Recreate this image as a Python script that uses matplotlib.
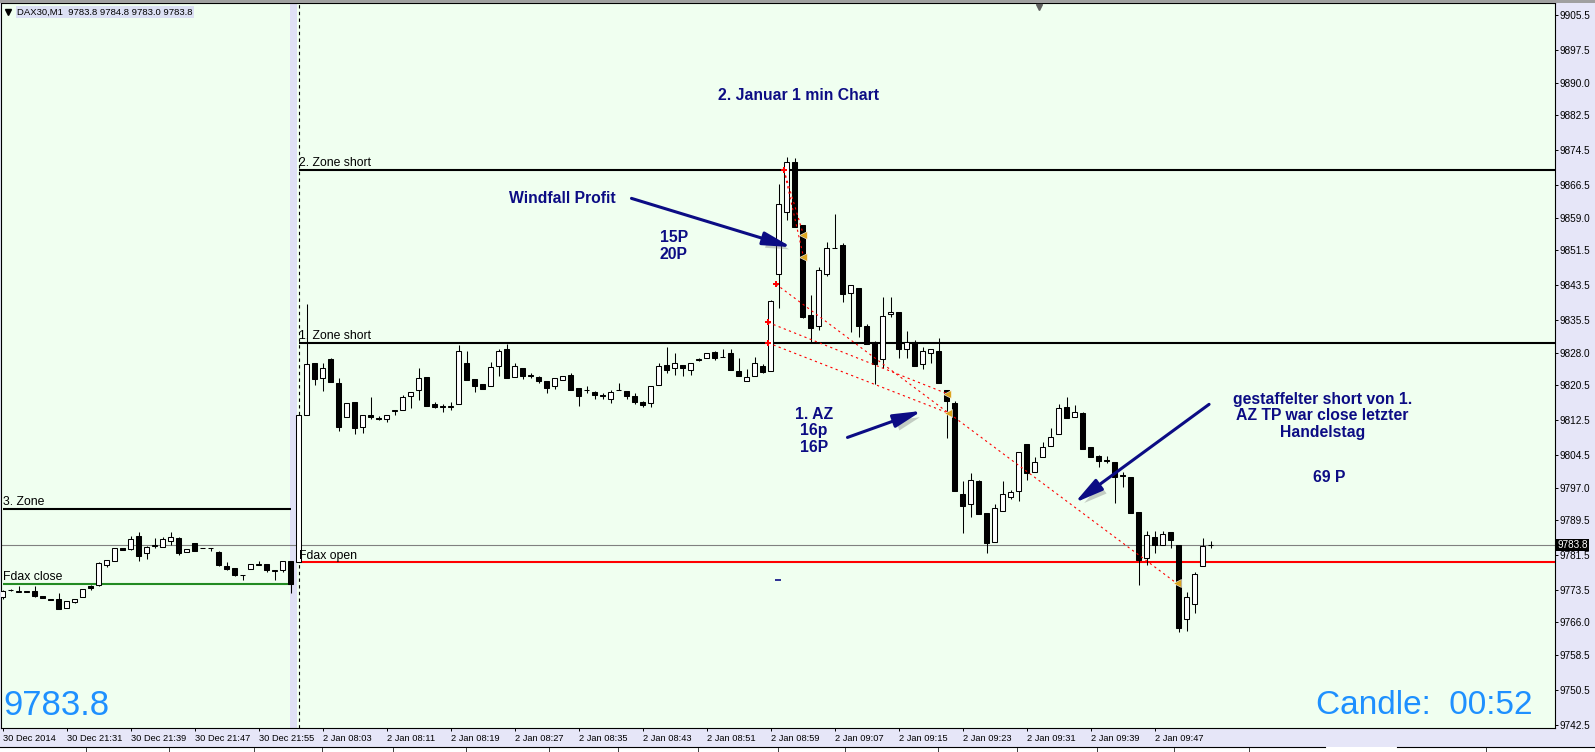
import matplotlib
matplotlib.use("Agg")
import matplotlib.pyplot as plt
import matplotlib.patheffects as pe
from matplotlib.patches import Rectangle
from matplotlib.lines import Line2D

W, H = 1595, 752
plt.rcParams['font.family'] = ['Liberation Sans', 'DejaVu Sans']

# ---- 30 Dec 2014, 21:23 .. 21:59 (M1)
dec_open = [9771.8, 9773.5, 9773.1, 9773.1, 9773.3, 9772.0, 9771.5, 9771.3, 9769.3, 9770.7,
            9771.8, 9774.4, 9774.6, 9779.2, 9780.2, 9783.1, 9782.8, 9785.9, 9781.9, 9783.6,
            9783.3, 9784.8, 9785.4, 9782.3, 9784.2, 9783.0, 9783.1, 9782.2, 9779.0, 9778.4,
            9776.9, 9778.2, 9779.3, 9779.4, 9777.9, 9778.1, 9780.2]
dec_high = [9773.5, 9773.7, 9774.4, 9773.2, 9774.4, 9772.0, 9771.5, 9772.7, 9771.0, 9771.3,
            9773.8, 9774.7, 9780.0, 9780.4, 9783.2, 9783.1, 9785.9, 9786.7, 9783.6, 9785.4,
            9785.7, 9786.7, 9785.6, 9782.9, 9784.2, 9783.0, 9783.1, 9782.4, 9780.0, 9778.5,
            9776.9, 9779.5, 9780.1, 9779.4, 9777.9, 9780.2, 9780.2]
dec_low = [9771.5, 9773.3, 9772.9, 9773.0, 9771.8, 9771.7, 9771.2, 9769.1, 9769.3, 9770.4,
           9771.8, 9773.5, 9774.4, 9778.7, 9780.2, 9782.6, 9782.7, 9780.2, 9780.5, 9783.1,
           9783.3, 9783.8, 9781.6, 9782.3, 9782.4, 9783.0, 9782.5, 9779.0, 9778.1, 9776.7,
           9775.8, 9778.2, 9779.2, 9777.7, 9775.8, 9777.7, 9772.7]
dec_close = [9773.3, 9773.5, 9773.1, 9773.1, 9772.1, 9771.7, 9771.2, 9769.1, 9771.0, 9771.3,
             9773.8, 9773.9, 9779.6, 9780.4, 9783.2, 9782.6, 9785.1, 9781.3, 9783.3, 9783.7,
             9785.1, 9785.6, 9781.9, 9782.9, 9782.4, 9783.0, 9783.1, 9779.2, 9778.2, 9776.9,
             9776.9, 9779.5, 9779.4, 9778.1, 9777.9, 9780.2, 9774.8]

# ---- 2 Jan 2015, 08:00 .. 09:54 (M1)
jan_open = [9779.8, 9813.7, 9825.5, 9822.1, 9826.5, 9820.9, 9813.1, 9816.6, 9811.0, 9813.7,
            9812.9, 9812.7, 9814.5, 9814.8, 9818.1, 9819.4, 9822.3, 9816.2, 9815.8, 9815.6,
            9816.1, 9825.5, 9821.9, 9820.7, 9820.2, 9824.8, 9828.8, 9822.3, 9824.4, 9822.8,
            9822.3, 9821.5, 9820.2, 9821.6, 9822.8, 9819.8, 9819.5, 9819.0, 9818.2, 9817.3,
            9819.4, 9819.2, 9818.0, 9816.6, 9816.5, 9820.6, 9825.2, 9824.4, 9825.2, 9824.1,
            9826.6, 9826.8, 9828.2, 9827.0, 9827.8, 9823.8, 9821.5, 9822.5, 9825.0, 9823.8,
            9846.1, 9860.2, 9871.7, 9857.3, 9836.6, 9834.2, 9846.0, 9852.0, 9852.7, 9841.7,
            9842.9, 9834.0, 9830.5, 9826.4, 9836.8, 9837.2, 9828.8, 9830.5, 9825.3, 9827.8,
            9828.3, 9819.4, 9816.5, 9795.5, 9793.2, 9798.6, 9791.1, 9784.4, 9791.5, 9794.8,
            9796.1, 9806.9, 9800.6, 9803.9, 9806.6, 9809.2, 9815.4, 9813.3, 9814.1, 9806.2,
            9804.2, 9803.3, 9802.8, 9799.8, 9799.4, 9791.3, 9780.8, 9785.7, 9783.8, 9786.7,
            9783.8, 9766.9, 9770.2, 9779.0, 9783.8]
jan_high = [9813.9, 9839.2, 9825.5, 9825.5, 9826.7, 9822.1, 9816.3, 9816.6, 9813.6, 9817.8,
            9813.4, 9813.7, 9814.8, 9818.3, 9818.9, 9824.4, 9822.3, 9816.6, 9816.2, 9816.6,
            9829.7, 9828.3, 9821.9, 9820.7, 9825.9, 9828.8, 9829.9, 9825.5, 9824.4, 9823.2,
            9822.7, 9821.5, 9822.1, 9822.5, 9823.2, 9819.8, 9820.2, 9819.2, 9818.8, 9819.4,
            9820.9, 9819.2, 9818.6, 9816.8, 9820.2, 9825.5, 9829.3, 9827.8, 9825.2, 9825.7,
            9826.8, 9827.8, 9828.4, 9828.8, 9828.8, 9826.7, 9824.2, 9826.9, 9825.3, 9840.1,
            9866.8, 9872.9, 9872.6, 9857.3, 9841.2, 9847.7, 9853.4, 9859.8, 9853.1, 9843.5,
            9842.9, 9834.5, 9830.7, 9840.8, 9840.8, 9837.2, 9833.0, 9830.9, 9829.2, 9828.8,
            9831.3, 9819.4, 9816.8, 9798.4, 9800.3, 9798.8, 9791.1, 9793.2, 9798.4, 9796.5,
            9805.2, 9806.9, 9803.9, 9807.4, 9810.6, 9816.2, 9817.7, 9816.0, 9814.4, 9806.2,
            9804.5, 9804.2, 9802.8, 9800.6, 9799.4, 9791.3, 9786.9, 9786.9, 9786.9, 9786.7,
            9783.8, 9773.1, 9777.6, 9785.4, 9784.8]
jan_low = [9779.8, 9813.7, 9820.6, 9819.2, 9821.2, 9810.0, 9813.1, 9809.2, 9809.5, 9812.7,
           9812.6, 9812.0, 9813.7, 9814.8, 9815.3, 9817.1, 9815.7, 9815.2, 9814.4, 9814.8,
           9816.1, 9821.7, 9819.0, 9819.6, 9820.2, 9822.5, 9822.1, 9822.3, 9821.9, 9822.1,
           9821.0, 9818.8, 9819.6, 9821.6, 9819.4, 9815.7, 9818.8, 9817.3, 9817.4, 9816.5,
           9819.4, 9817.3, 9816.2, 9815.6, 9815.6, 9820.6, 9823.2, 9822.8, 9822.5, 9822.8,
           9826.0, 9826.8, 9826.2, 9827.0, 9824.0, 9822.5, 9821.5, 9822.5, 9823.3, 9823.8,
           9838.3, 9858.4, 9856.8, 9835.9, 9830.5, 9833.2, 9845.6, 9852.0, 9839.7, 9832.6,
           9831.6, 9830.0, 9820.8, 9824.5, 9836.1, 9826.7, 9826.7, 9825.0, 9824.3, 9825.5,
           9820.9, 9808.3, 9796.3, 9786.6, 9790.3, 9790.9, 9781.9, 9784.4, 9791.5, 9794.3,
           9794.0, 9798.7, 9800.6, 9803.9, 9806.6, 9809.2, 9812.9, 9813.3, 9805.8, 9803.9,
           9801.7, 9802.6, 9793.4, 9797.2, 9791.1, 9774.6, 9779.2, 9781.9, 9783.8, 9783.1,
           9763.8, 9764.0, 9768.1, 9779.0, 9783.0]
jan_close = [9813.6, 9825.3, 9821.9, 9824.4, 9821.2, 9811.0, 9816.3, 9810.6, 9813.6, 9813.1,
             9812.8, 9813.7, 9814.8, 9817.8, 9818.9, 9822.1, 9815.7, 9815.6, 9815.6, 9815.8,
             9828.3, 9821.7, 9820.2, 9819.6, 9824.6, 9828.3, 9822.1, 9824.8, 9822.5, 9822.6,
             9821.5, 9819.8, 9822.1, 9822.5, 9819.4, 9818.1, 9819.3, 9818.3, 9818.0, 9818.9,
             9819.4, 9818.1, 9816.7, 9816.0, 9820.2, 9824.8, 9824.0, 9825.5, 9824.4, 9825.7,
             9826.2, 9827.8, 9826.7, 9827.0, 9824.0, 9822.5, 9822.3, 9825.7, 9823.5, 9839.9,
             9862.1, 9871.8, 9856.8, 9836.2, 9833.7, 9847.0, 9851.9, 9852.1, 9841.4, 9843.5,
             9834.2, 9830.0, 9825.4, 9836.4, 9837.2, 9828.8, 9830.4, 9825.0, 9828.3, 9828.8,
             9820.9, 9816.9, 9796.3, 9792.8, 9798.7, 9790.9, 9784.2, 9792.3, 9795.5, 9795.9,
             9805.2, 9800.3, 9802.8, 9806.2, 9808.7, 9815.2, 9812.9, 9814.3, 9805.8, 9803.9,
             9803.2, 9803.1, 9799.4, 9799.6, 9791.1, 9780.4, 9786.0, 9783.8, 9786.3, 9785.0,
             9764.8, 9771.8, 9777.1, 9783.6, 9783.8]

opens = dec_open + jan_open
highs = dec_high + jan_high
lows = dec_low + jan_low
closes = dec_close + jan_close
n_dec = len(dec_open)

# x axis labels (every 8 bars)
xtick_bars = [0, 8, 16, 24, 32] + list(range(40, 145, 8))
xtick_labels = ["30 Dec 2014", "30 Dec 21:31", "30 Dec 21:39", "30 Dec 21:47", "30 Dec 21:55",
                "2 Jan 08:03", "2 Jan 08:11", "2 Jan 08:19", "2 Jan 08:27", "2 Jan 08:35",
                "2 Jan 08:43", "2 Jan 08:51", "2 Jan 08:59", "2 Jan 09:07", "2 Jan 09:15",
                "2 Jan 09:23", "2 Jan 09:31", "2 Jan 09:39", "2 Jan 09:47"]
ytick_values = [9905.5, 9897.5, 9890.0, 9882.5, 9874.5, 9866.5, 9859.0, 9851.5, 9843.5,
                9835.5, 9828.0, 9820.5, 9812.5, 9804.5, 9797.0, 9789.5, 9781.5, 9773.5,
                9766.0, 9758.5, 9750.5, 9742.5]

# horizontal levels
zone3 = 9792.0
fdax_close = 9774.9
zone2_short = 9869.9
zone1_short = 9830.1
fdax_open = 9779.8
last_price = 9783.8

# trades: entry bar/price -> exit bar/price
trade_entry_bar = [97.66, 97.66, 96.66, 95.7, 95.7]
trade_entry_px = [9869.9, 9869.9, 9843.7, 9834.9, 9830.2]
trade_exit_bar = [100.1, 100.1, 146.75, 118.1, 118.2]
trade_exit_px = [9855.0, 9850.0, 9775.0, 9818.5, 9814.1]

navy = '#0C0C84'
blue_big = '#1E90FF'

fig = plt.figure(figsize=(W / 100, H / 100), dpi=100, facecolor='#E6E6F8')
ax = fig.add_axes([1 / W, 1 - 728.3 / H, 1554 / W, 725 / H])
ax.set_facecolor('#F0FFF0')
ax.set_xlim(-0.21, 194.04)
ax.set_ylim(9741.7, 9908.2)

# session separator band + dashed line
ax.axvspan(35.9, 36.75, color='#E0E0F6', lw=0, zorder=1)
ax.axvline(37, color='black', lw=0.8, ls=(0, (3, 3)), zorder=1.5)

# levels
ax.axhline(last_price, color='#808080', lw=0.8, zorder=2)
ax.hlines([zone3], 0, n_dec - 1, color='black', lw=1.5, zorder=2)
ax.hlines([fdax_close], 0, n_dec - 1, color='#228B22', lw=1.5, zorder=2)
ax.hlines([zone2_short, zone1_short], n_dec, 194.04, color='black', lw=1.5, zorder=2)
ax.hlines([fdax_open], n_dec, 194.04, color='#FF0000', lw=1.5, zorder=2)
for txt, xb, yv in [("3. Zone", 0, zone3), ("Fdax close", 0, fdax_close),
                    ("2. Zone short", n_dec, zone2_short), ("1. Zone short", n_dec, zone1_short),
                    ("Fdax open", n_dec, fdax_open)]:
    ax.annotate(txt, (xb, yv), xytext=(0, 2.8), textcoords='offset points',
                ha='left', va='baseline', fontsize=8.8, color='black', zorder=6)

# candles
bars = list(range(len(opens)))
ax.vlines(bars, lows, highs, color='black', lw=0.75, zorder=3)
for i in bars:
    o, c = opens[i], closes[i]
    fc = 'white' if c >= o else 'black'
    ax.bar(i, max(abs(c - o), 0.05), bottom=min(o, c), width=0.6, facecolor=fc,
           edgecolor='black', linewidth=0.75, zorder=4)

# trade lines and markers
for eb, ep, xb, xp in zip(trade_entry_bar, trade_entry_px, trade_exit_bar, trade_exit_px):
    ax.plot([eb, xb], [ep, xp], color='red', lw=0.8, ls=(0, (2, 3)), zorder=5)
ax.plot(trade_entry_bar, trade_entry_px, ls='none', marker='P', ms=5, color='red',
        mew=0, zorder=7)
ax.plot(trade_exit_bar, trade_exit_px, ls='none', marker='<', ms=5.5, color='#DAA520',
        mec='white', mew=0.4, zorder=7)
ax.plot([96.9], [9775.8], ls='none', marker='_', ms=5, mew=1.2, color=navy, zorder=7)

# notes
note_kw = dict(color=navy, fontsize=11.3, fontweight='bold', zorder=8)
ax.text(99.5, 9887.1, "2. Januar 1 min Chart", ha='center', va='center', **note_kw)
ax.text(63.3, 9863.4, "Windfall Profit", ha='left', va='center', **note_kw)
ax.text(83.9, 9852.4, "15P\n20P", ha='center', va='center', linespacing=1.15, **note_kw)
ax.text(101.4, 9810.0, "1. AZ\n16p\n16P", ha='center', va='center', linespacing=1.15, **note_kw)
ax.text(165.0, 9813.5, "gestaffelter short von 1.\nAZ TP war close letzter\nHandelstag",
        ha='center', va='center', linespacing=1.12, **note_kw)
ax.text(165.8, 9799.2, "69 P", ha='center', va='center', **note_kw)

shadow = [pe.SimplePatchShadow(offset=(3, -3), shadow_rgbFace='#707070', alpha=0.35), pe.Normal()]
for start, tip in [((78.6, 9863.4), (98.6, 9852.2)),
                   ((105.6, 9808.5), (114.9, 9814.6)),
                   ((150.8, 9816.1), (134.0, 9793.5))]:
    an = ax.annotate('', xy=tip, xytext=start, zorder=8,
                     arrowprops=dict(arrowstyle='-|>,head_length=0.85,head_width=0.2',
                                     color=navy, lw=2.2, mutation_scale=20,
                                     shrinkA=0, shrinkB=0))
    an.arrow_patch.set_path_effects(shadow)

# corner labels
ax.text(0.0013, 0.032, "9783.8", transform=ax.transAxes, ha='left', va='center',
        fontsize=25, color=blue_big, zorder=9)
ax.text(0.9852, 0.032, "Candle:  00:52", transform=ax.transAxes, ha='right', va='center',
        fontsize=24, color=blue_big, zorder=9)
ax.plot([0.668], [0.995], transform=ax.transAxes, marker='v', ms=5, color='#606060',
        clip_on=False, zorder=9)

# axes styling
for s in ax.spines.values():
    s.set_color('black')
    s.set_linewidth(0.8)
ax.yaxis.tick_right()
ax.set_yticks(ytick_values)
ax.set_yticklabels([f"{v:.1f}" for v in ytick_values])
ax.tick_params(axis='y', length=2.2, width=0.7, pad=1.2, labelsize=7.2, colors='black')
ax.set_xticks(xtick_bars)
ax.set_xticklabels(xtick_labels)
for lbl in ax.get_xticklabels():
    lbl.set_ha('left')
ax.tick_params(axis='x', length=2.2, width=0.7, pad=1.6, labelsize=6.7, colors='black')

ax.text(1.0013, last_price, "9783.8", transform=ax.get_yaxis_transform(), ha='left',
        va='center', fontsize=7.2, color='white', clip_on=False, zorder=10,
        bbox=dict(facecolor='black', edgecolor='none', pad=1.0))

# header
fig.text(17 / W, 1 - 12 / H, "DAX30,M1  9783.8 9784.8 9783.0 9783.8", fontsize=6.8,
         ha='left', va='center', color='black',
         bbox=dict(facecolor='#DCE0F4', edgecolor='none', pad=0.8))
fig.add_artist(Line2D([8 / W], [1 - 11.5 / H], marker='v', ms=4, color='black'))

# window chrome
fig.add_artist(Rectangle((0, 1 - 3 / H), 1, 3 / H, transform=fig.transFigure,
                         facecolor='#A0A0A0', edgecolor='none'))
fig.add_artist(Rectangle((0, 0), 1, 5.5 / H, transform=fig.transFigure,
                         facecolor='white', edgecolor='none'))
fig.add_artist(Line2D([0, 1325 / W], [5.5 / H, 5.5 / H], color='black', lw=0.8))
fig.add_artist(Line2D([1397 / W, 1], [5.5 / H, 5.5 / H], color='black', lw=0.8))
for px in [86, 169, 254, 322, 393, 466, 549, 618, 698, 778, 845, 938, 1017, 1097, 1174, 1249, 1486]:
    fig.add_artist(Line2D([px / W, px / W], [0, 4 / H], color='#404040', lw=0.7))

fig.savefig('out.png', dpi=100, facecolor=fig.get_facecolor())
